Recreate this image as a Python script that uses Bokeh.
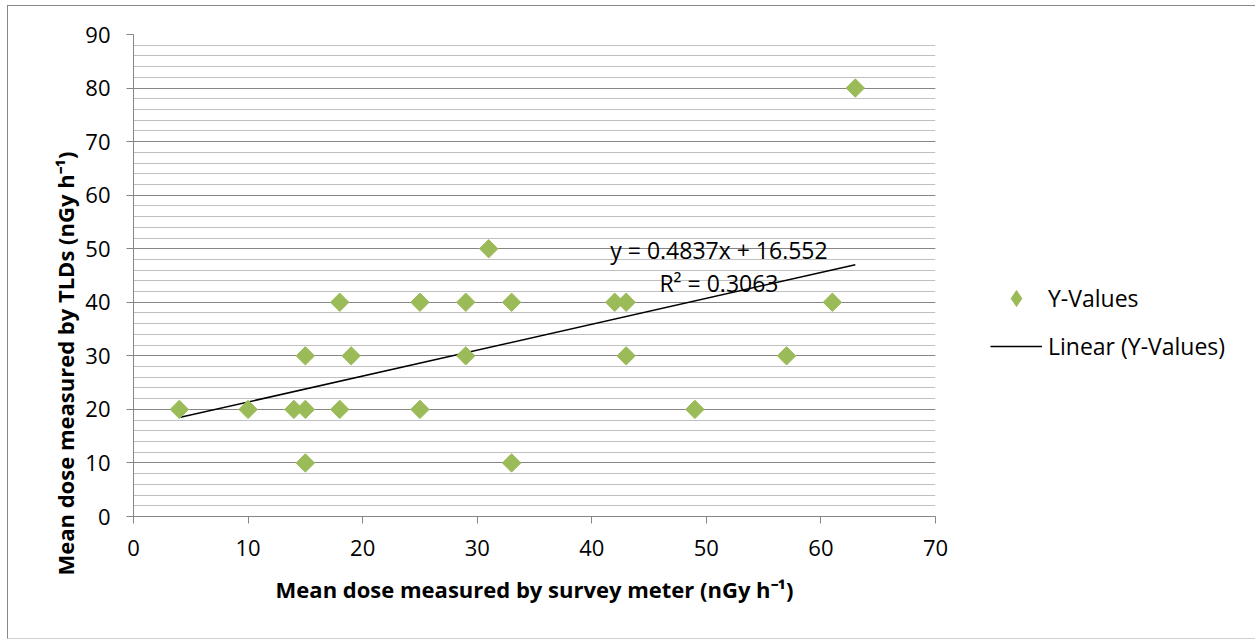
import math
from bokeh.plotting import figure
from bokeh.models import (Range1d, SingleIntervalTicker, Legend, LegendItem, Label, Title,
                          ColumnDataSource)
from bokeh.embed import file_html
from bokeh.resources import INLINE

# ---- data ----
survey_meter = [4, 10, 14, 15, 15, 15, 18, 18, 19, 25, 25, 29, 29, 31, 33, 33, 42, 43, 43, 49, 57, 61, 63]
tld_dose     = [20, 20, 20, 20, 30, 10, 40, 20, 30, 40, 20, 40, 30, 50, 40, 10, 40, 40, 30, 20, 30, 40, 80]
slope = 0.4837
intercept = 16.552
r_squared = 0.3063
x_ticks_interval = 10
y_ticks_interval = 10

FONT = "Open Sans"
GREEN = "#9bbb59"
AXIS_GRAY = "#868686"
MINOR_GRAY = "#c0c0c0"

p = figure(width=1248, height=634, output_backend="svg", toolbar_location=None,
           x_range=Range1d(0, 70), y_range=Range1d(0, 90),
           min_border_left=125, min_border_right=319, min_border_top=28, min_border_bottom=122)
p.frame_width = 802
p.frame_height = 482
p.outline_line_color = None
p.background_fill_color = "white"
p.border_fill_color = "white"
p.styles = {"margin-left": "7px", "margin-top": "5px",
            "border-left": "1px solid #888888", "border-top": "1px solid #888888",
            "border-bottom": "1px solid #d0d0d0"}

# axes
for ax in (p.xaxis[0], p.yaxis[0]):
    ax.axis_line_color = AXIS_GRAY
    ax.major_tick_line_color = AXIS_GRAY
    ax.minor_tick_line_color = None
    ax.major_tick_in = 0
    ax.major_tick_out = 7
    ax.major_label_text_font = FONT
    ax.major_label_text_font_size = "22px"
    ax.major_label_text_color = "black"
p.xaxis.ticker = SingleIntervalTicker(interval=x_ticks_interval)
p.yaxis.ticker = SingleIntervalTicker(interval=y_ticks_interval, num_minor_ticks=5)
p.xaxis.major_label_standoff = 16
p.yaxis.major_label_standoff = 16

p.xaxis.axis_label = "Mean dose measured by survey meter (nGy h\u207b\u00b9)"
p.xaxis.axis_label_text_font = FONT
p.xaxis.axis_label_text_font_style = "bold"
p.xaxis.axis_label_text_font_size = "22px"
p.xaxis.axis_label_text_color = "black"
p.xaxis.axis_label_standoff = 15

# grids
p.xgrid.grid_line_color = None
p.ygrid.ticker = SingleIntervalTicker(interval=y_ticks_interval, num_minor_ticks=5)
p.ygrid.grid_line_color = AXIS_GRAY
p.ygrid.grid_line_width = 1
p.ygrid.minor_grid_line_color = MINOR_GRAY
p.ygrid.minor_grid_line_width = 1

# y axis title (offset downward like the original)
p.add_layout(Title(text="Mean dose measured by TLDs (nGy h\u207b\u00b9)", align="left", offset=-59,
                   text_font=FONT, text_font_style="bold", text_font_size="22px",
                   text_color="black", standoff=6), "left")

# trendline
x0, x1 = min(survey_meter), max(survey_meter)
trend_src = ColumnDataSource(dict(x=[x0, x1], y=[slope * x0 + intercept, slope * x1 + intercept]))

src = ColumnDataSource(dict(x=survey_meter, y=tld_dose))
# legend proxy: diamond glyph hidden beneath the rotated squares (same colour)
proxy = p.scatter("x", "y", source=src, marker="diamond", size=12, fill_color=GREEN, line_color=GREEN)

line_r = p.line("x", "y", source=trend_src, line_color="black", line_width=1.5)

# points
pts = p.scatter("x", "y", source=src, marker="square", size=13, angle=math.pi / 4,
                fill_color=GREEN, line_color=GREEN)

# equation text
p.add_layout(Label(x=51.1, y=49.7, text=f"y = {slope}x + {intercept}", text_align="center",
                   text_baseline="middle", text_font=FONT, text_font_size="23px", text_color="black"))
p.add_layout(Label(x=51.1, y=43.6, text=f"R\u00b2 = {r_squared}", text_align="center",
                   text_baseline="middle", text_font=FONT, text_font_size="23px", text_color="black"))

legend = Legend(items=[LegendItem(label="Y-Values", renderers=[proxy]),
                       LegendItem(label="Linear (Y-Values)", renderers=[line_r])],
                location=(55, 150), orientation="vertical",
                padding=0, margin=0, spacing=8, label_height=40, glyph_height=40,
                glyph_width=52, label_standoff=6,
                label_text_font=FONT, label_text_font_size="23px", label_text_color="black",
                border_line_color=None, background_fill_alpha=0)
p.add_layout(legend, "right")

open("out.html", "w").write(file_html(p, INLINE))
